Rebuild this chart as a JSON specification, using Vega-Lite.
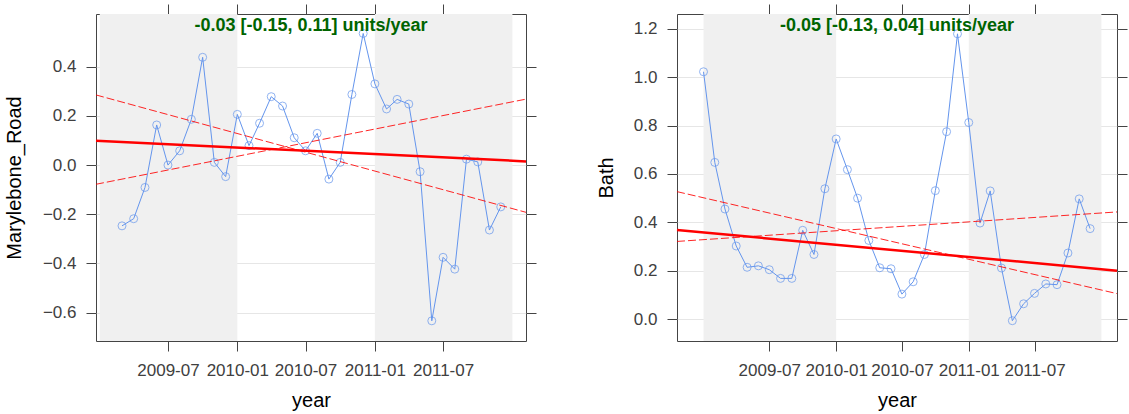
{
  "$schema": "https://vega.github.io/schema/vega-lite/v6.json",
  "background": "white",
  "padding": {"left": 3, "top": 3, "right": 5, "bottom": 2},
  "config": {
    "font": "Liberation Sans",
    "view": {"stroke": "#444444", "strokeWidth": 1},
    "axis": {
      "labelFont": "Liberation Sans",
      "titleFont": "Liberation Sans",
      "labelFontSize": 17,
      "labelColor": "#404040",
      "titleFontSize": 20,
      "titleFontWeight": "normal",
      "titleColor": "#000000",
      "tickColor": "#444444",
      "tickSize": 10,
      "domain": false,
      "gridColor": "#e6e6e6",
      "labelPadding": 10
    },
    "title": {"font": "Liberation Sans", "fontSize": 18, "fontWeight": "bold", "color": "#006400"},
    "concat": {"spacing": 58}
  },
  "datasets": {
    "mr": [
      {"date": "2009-03-01", "value": -0.247},
      {"date": "2009-04-01", "value": -0.218},
      {"date": "2009-05-01", "value": -0.091},
      {"date": "2009-06-01", "value": 0.163},
      {"date": "2009-07-01", "value": 0.0},
      {"date": "2009-08-01", "value": 0.058},
      {"date": "2009-09-01", "value": 0.186},
      {"date": "2009-10-01", "value": 0.438},
      {"date": "2009-11-01", "value": 0.011},
      {"date": "2009-12-01", "value": -0.047},
      {"date": "2010-01-01", "value": 0.206},
      {"date": "2010-02-01", "value": 0.079},
      {"date": "2010-03-01", "value": 0.17},
      {"date": "2010-04-01", "value": 0.278},
      {"date": "2010-05-01", "value": 0.24},
      {"date": "2010-06-01", "value": 0.111},
      {"date": "2010-07-01", "value": 0.058},
      {"date": "2010-08-01", "value": 0.129},
      {"date": "2010-09-01", "value": -0.057},
      {"date": "2010-10-01", "value": 0.011},
      {"date": "2010-11-01", "value": 0.287},
      {"date": "2010-12-01", "value": 0.535},
      {"date": "2011-01-01", "value": 0.33},
      {"date": "2011-02-01", "value": 0.228},
      {"date": "2011-03-01", "value": 0.267},
      {"date": "2011-04-01", "value": 0.248},
      {"date": "2011-05-01", "value": -0.027},
      {"date": "2011-06-01", "value": -0.633},
      {"date": "2011-07-01", "value": -0.375},
      {"date": "2011-08-01", "value": -0.423},
      {"date": "2011-09-01", "value": 0.024},
      {"date": "2011-10-01", "value": 0.013},
      {"date": "2011-11-01", "value": -0.264},
      {"date": "2011-12-01", "value": -0.17}
    ],
    "bath": [
      {"date": "2009-01-01", "value": 1.023},
      {"date": "2009-02-01", "value": 0.648},
      {"date": "2009-03-01", "value": 0.455},
      {"date": "2009-04-01", "value": 0.302},
      {"date": "2009-05-01", "value": 0.214},
      {"date": "2009-06-01", "value": 0.22},
      {"date": "2009-07-01", "value": 0.204},
      {"date": "2009-08-01", "value": 0.168},
      {"date": "2009-09-01", "value": 0.168},
      {"date": "2009-10-01", "value": 0.367},
      {"date": "2009-11-01", "value": 0.267},
      {"date": "2009-12-01", "value": 0.539},
      {"date": "2010-01-01", "value": 0.745},
      {"date": "2010-02-01", "value": 0.618},
      {"date": "2010-03-01", "value": 0.5},
      {"date": "2010-04-01", "value": 0.325},
      {"date": "2010-05-01", "value": 0.212},
      {"date": "2010-06-01", "value": 0.208},
      {"date": "2010-07-01", "value": 0.103},
      {"date": "2010-08-01", "value": 0.154},
      {"date": "2010-09-01", "value": 0.267},
      {"date": "2010-10-01", "value": 0.531},
      {"date": "2010-11-01", "value": 0.775},
      {"date": "2010-12-01", "value": 1.18},
      {"date": "2011-01-01", "value": 0.813},
      {"date": "2011-02-01", "value": 0.397},
      {"date": "2011-03-01", "value": 0.53},
      {"date": "2011-04-01", "value": 0.211},
      {"date": "2011-05-01", "value": -0.007},
      {"date": "2011-06-01", "value": 0.063},
      {"date": "2011-07-01", "value": 0.106},
      {"date": "2011-08-01", "value": 0.145},
      {"date": "2011-09-01", "value": 0.142},
      {"date": "2011-10-01", "value": 0.273},
      {"date": "2011-11-01", "value": 0.497},
      {"date": "2011-12-01", "value": 0.374}
    ],
    "mr_trend": [
      {"date": "2008-12-22", "value": 0.099, "line": "estimate"},
      {"date": "2012-02-06", "value": 0.015, "line": "estimate"},
      {"date": "2008-12-22", "value": 0.285, "line": "lower"},
      {"date": "2012-02-06", "value": -0.192, "line": "lower"},
      {"date": "2008-12-22", "value": -0.078, "line": "upper"},
      {"date": "2012-02-06", "value": 0.268, "line": "upper"}
    ],
    "bath_trend": [
      {"date": "2008-10-20", "value": 0.368, "line": "estimate"},
      {"date": "2012-02-13", "value": 0.2, "line": "estimate"},
      {"date": "2008-10-20", "value": 0.527, "line": "lower"},
      {"date": "2012-02-13", "value": 0.105, "line": "lower"},
      {"date": "2008-10-20", "value": 0.321, "line": "upper"},
      {"date": "2012-02-13", "value": 0.443, "line": "upper"}
    ],
    "shade": [
      {"start": "2009-01-01", "end": "2010-01-01"},
      {"start": "2011-01-01", "end": "2012-01-01"}
    ]
  },
  "hconcat": [
    {
      "width": 430,
      "height": 327,
      "title": {"text": "-0.03 [-0.15, 0.11] units/year", "offset": -31},
      "layer": [
        {
          "data": {"name": "shade"},
          "mark": {"type": "rect", "color": "#f0f0f0"},
          "encoding": {
            "x": {
              "field": "start", "type": "temporal",
              "scale": {"type": "utc", "domain": [{"year": 2008, "month": 12, "date": 22, "utc": true}, {"year": 2012, "month": 2, "date": 6, "utc": true}]},
              "axis": {"orient": "bottom", "title": "year", "titlePadding": 12, "labelPadding": 11, "grid": false, "format": "%Y-%m",
                "values": [{"year": 2009, "month": 7, "date": 1, "utc": true}, {"year": 2010, "month": 1, "date": 1, "utc": true}, {"year": 2010, "month": 7, "date": 1, "utc": true}, {"year": 2011, "month": 1, "date": 1, "utc": true}, {"year": 2011, "month": 7, "date": 1, "utc": true}]}
            },
            "x2": {"field": "end"}
          }
        },
        {
          "data": {"name": "mr"},
          "mark": {"type": "line", "color": "#6495ED", "strokeWidth": 1},
          "encoding": {
            "x": {"field": "date", "type": "temporal", "axis": null},
            "y": {
              "field": "value", "type": "quantitative",
              "scale": {"domain": [-0.715, 0.614], "nice": false, "zero": false},
              "axis": {"orient": "left", "title": "Marylebone_Road", "titlePadding": 18, "grid": true, "values": [-0.6, -0.4, -0.2, 0, 0.2, 0.4], "format": ".1f"}
            }
          }
        },
        {
          "data": {"name": "mr"},
          "mark": {"type": "point", "shape": "circle", "filled": false, "color": "#6495ED", "size": 64, "strokeWidth": 1},
          "encoding": {
            "x": {"field": "date", "type": "temporal",
              "axis": {"orient": "top", "labels": false, "title": null, "grid": false,
                "values": [{"year": 2009, "month": 7, "date": 1, "utc": true}, {"year": 2010, "month": 1, "date": 1, "utc": true}, {"year": 2010, "month": 7, "date": 1, "utc": true}, {"year": 2011, "month": 1, "date": 1, "utc": true}, {"year": 2011, "month": 7, "date": 1, "utc": true}]}},
            "y": {"field": "value", "type": "quantitative",
              "axis": {"orient": "right", "labels": false, "title": null, "grid": false, "values": [-0.6, -0.4, -0.2, 0, 0.2, 0.4]}}
          }
        },
        {
          "data": {"name": "mr_trend"},
          "transform": [{"filter": "datum.line !== 'estimate'"}],
          "mark": {"type": "line", "color": "#ff0000", "strokeWidth": 1, "strokeDash": [8, 3], "opacity": 0.85},
          "encoding": {
            "x": {"field": "date", "type": "temporal", "axis": null},
            "y": {"field": "value", "type": "quantitative", "axis": null},
            "detail": {"field": "line"}
          }
        },
        {
          "data": {"name": "mr_trend"},
          "transform": [{"filter": "datum.line === 'estimate'"}],
          "mark": {"type": "line", "color": "#ff0000", "strokeWidth": 2.5},
          "encoding": {
            "x": {"field": "date", "type": "temporal", "axis": null},
            "y": {"field": "value", "type": "quantitative", "axis": null}
          }
        }
      ]
    },
    {
      "width": 440,
      "height": 327,
      "title": {"text": "-0.05 [-0.13, 0.04] units/year", "offset": -31},
      "layer": [
        {
          "data": {"name": "shade"},
          "mark": {"type": "rect", "color": "#f0f0f0"},
          "encoding": {
            "x": {
              "field": "start", "type": "temporal",
              "scale": {"type": "utc", "domain": [{"year": 2008, "month": 10, "date": 20, "utc": true}, {"year": 2012, "month": 2, "date": 13, "utc": true}]},
              "axis": {"orient": "bottom", "title": "year", "titlePadding": 12, "labelPadding": 11, "grid": false, "format": "%Y-%m",
                "values": [{"year": 2009, "month": 7, "date": 1, "utc": true}, {"year": 2010, "month": 1, "date": 1, "utc": true}, {"year": 2010, "month": 7, "date": 1, "utc": true}, {"year": 2011, "month": 1, "date": 1, "utc": true}, {"year": 2011, "month": 7, "date": 1, "utc": true}]}
            },
            "x2": {"field": "end"}
          }
        },
        {
          "data": {"name": "bath"},
          "mark": {"type": "line", "color": "#6495ED", "strokeWidth": 1},
          "encoding": {
            "x": {"field": "date", "type": "temporal", "axis": null},
            "y": {
              "field": "value", "type": "quantitative",
              "scale": {"domain": [-0.091, 1.262], "nice": false, "zero": false},
              "axis": {"orient": "left", "title": "Bath", "titlePadding": 17, "grid": true, "values": [0, 0.2, 0.4, 0.6, 0.8, 1.0, 1.2], "format": ".1f"}
            }
          }
        },
        {
          "data": {"name": "bath"},
          "mark": {"type": "point", "shape": "circle", "filled": false, "color": "#6495ED", "size": 64, "strokeWidth": 1},
          "encoding": {
            "x": {"field": "date", "type": "temporal",
              "axis": {"orient": "top", "labels": false, "title": null, "grid": false,
                "values": [{"year": 2009, "month": 7, "date": 1, "utc": true}, {"year": 2010, "month": 1, "date": 1, "utc": true}, {"year": 2010, "month": 7, "date": 1, "utc": true}, {"year": 2011, "month": 1, "date": 1, "utc": true}, {"year": 2011, "month": 7, "date": 1, "utc": true}]}},
            "y": {"field": "value", "type": "quantitative",
              "axis": {"orient": "right", "labels": false, "title": null, "grid": false, "values": [0, 0.2, 0.4, 0.6, 0.8, 1.0, 1.2]}}
          }
        },
        {
          "data": {"name": "bath_trend"},
          "transform": [{"filter": "datum.line !== 'estimate'"}],
          "mark": {"type": "line", "color": "#ff0000", "strokeWidth": 1, "strokeDash": [8, 3], "opacity": 0.85},
          "encoding": {
            "x": {"field": "date", "type": "temporal", "axis": null},
            "y": {"field": "value", "type": "quantitative", "axis": null},
            "detail": {"field": "line"}
          }
        },
        {
          "data": {"name": "bath_trend"},
          "transform": [{"filter": "datum.line === 'estimate'"}],
          "mark": {"type": "line", "color": "#ff0000", "strokeWidth": 2.5},
          "encoding": {
            "x": {"field": "date", "type": "temporal", "axis": null},
            "y": {"field": "value", "type": "quantitative", "axis": null}
          }
        }
      ]
    }
  ]
}
